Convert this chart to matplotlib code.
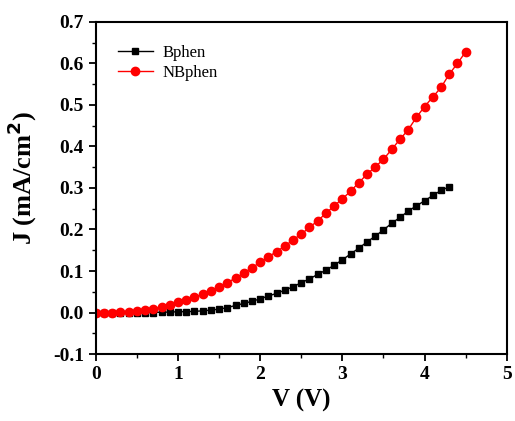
import matplotlib
matplotlib.use("Agg")
import matplotlib.pyplot as plt
from matplotlib.ticker import MultipleLocator

# voltage steps (V)
v_bphen = [round(0.1 * i, 1) for i in range(44)]
v_nbphen = [round(0.1 * i, 1) for i in range(46)]

# current density (mA/cm^2)
j_bphen = [0.000, 0.000, 0.000, 0.000, 0.000, 0.000, 0.000, 0.000,
           0.001, 0.001, 0.002, 0.002, 0.003, 0.004, 0.006, 0.008,
           0.012, 0.017, 0.022, 0.027, 0.033, 0.040, 0.046, 0.054,
           0.062, 0.072, 0.081, 0.092, 0.102, 0.114, 0.127, 0.141,
           0.155, 0.170, 0.184, 0.199, 0.215, 0.229, 0.244, 0.257,
           0.269, 0.282, 0.294, 0.303]
j_nbphen = [0.000, 0.000, 0.000, 0.001, 0.002, 0.004, 0.006, 0.009,
            0.014, 0.019, 0.025, 0.031, 0.037, 0.044, 0.053, 0.062,
            0.072, 0.083, 0.095, 0.108, 0.121, 0.134, 0.147, 0.160,
            0.175, 0.189, 0.205, 0.221, 0.239, 0.257, 0.274, 0.292,
            0.313, 0.333, 0.351, 0.369, 0.393, 0.417, 0.440, 0.470,
            0.496, 0.519, 0.542, 0.574, 0.600, 0.628]

plt.rcParams["font.family"] = ["Liberation Serif", "DejaVu Serif"]

fig = plt.figure(figsize=(5.15, 4.21), dpi=100)
ax = fig.add_axes([0.186, 0.159, 0.798, 0.789])

ax.plot(v_bphen, j_bphen, color="black", marker="s", markersize=5,
        linewidth=1.0, label="Bphen")
ax.plot(v_nbphen, j_nbphen, color="red", marker="o", markersize=6,
        linewidth=1.0, label="NBphen")

ax.set_xlim(0, 5)
ax.set_ylim(-0.1, 0.7)
ax.xaxis.set_major_locator(MultipleLocator(1))
ax.xaxis.set_minor_locator(MultipleLocator(0.5))
ax.yaxis.set_major_locator(MultipleLocator(0.1))
ax.yaxis.set_minor_locator(MultipleLocator(0.05))
ax.set_yticklabels(["%.1f" % t for t in ax.get_yticks()])

ax.tick_params(which="major", direction="out", length=5, width=1.3,
               labelsize=14, top=False, right=False)
ax.tick_params(which="minor", direction="out", length=3, width=1.0,
               top=False, right=False)
for lab in ax.get_xticklabels() + ax.get_yticklabels():
    lab.set_fontweight("bold")
for s in ax.spines.values():
    s.set_linewidth(1.5)

ax.set_xlabel("V (V)", fontsize=18, fontweight="bold")
ax.set_ylabel("J (mA/cm$^\\mathbf{2}$)", fontsize=19, fontweight="bold")
ax.yaxis.set_label_coords(-0.138, 0.53)

ax.legend(loc="upper left", frameon=False, fontsize=12,
          bbox_to_anchor=(0.054, 0.93), borderpad=0, borderaxespad=0,
          handlelength=2.1, handletextpad=0.6, labelspacing=0.25)

fig.savefig("out.png", dpi=100)
